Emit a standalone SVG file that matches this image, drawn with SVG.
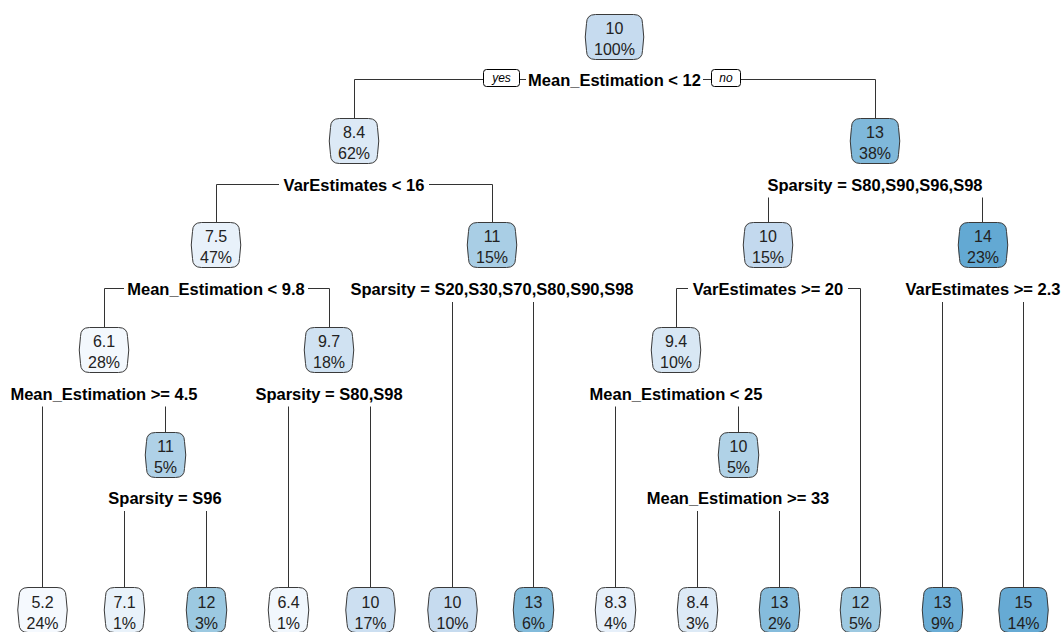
<svg xmlns="http://www.w3.org/2000/svg" xmlns:xlink="http://www.w3.org/1999/xlink" width="1063" height="632" viewBox="0 0 1063 632">
<style>
.box{stroke:#3a3a3a;stroke-width:1}
.nt{font-family:"Liberation Sans",Arial,sans-serif;font-size:16px;text-anchor:middle;fill:#222}
.sl{font-family:"Liberation Sans",Arial,sans-serif;font-size:16.5px;font-weight:bold;text-anchor:middle;fill:#000}
.yn{font-family:"Liberation Sans",Arial,sans-serif;font-size:12px;font-style:italic;text-anchor:middle;fill:#000}
.ynb{fill:#fff;stroke:#000;stroke-width:1}
.cn{fill:none;stroke:#333;stroke-width:1}
</style>
<defs>
<path id="s47" d="M9,0 H38 Q47,0 47,9 Q49.5,22.5 47,36 Q47,45 38,45 H9 Q0,45 0,36 Q-2.5,22.5 0,9 Q0,0 9,0 Z"/>
<path id="s38" d="M9,0 H29 Q38,0 38,9 Q40.5,22.5 38,36 Q38,45 29,45 H9 Q0,45 0,36 Q-2.5,22.5 0,9 Q0,0 9,0 Z"/>
<path id="s56" d="M9,0 H47 Q56,0 56,9 Q58.5,22.5 56,36 Q56,45 47,45 H9 Q0,45 0,36 Q-2.5,22.5 0,9 Q0,0 9,0 Z"/>
</defs>
<rect width="1063" height="632" fill="#fff"/>
<g id="connectors" class="cn">
<path d="M354.5,118 V79.5 H483 M520,79.5 H526 M703,79.5 H711 M741,79.5 H875.5 V118"/>
<path d="M216.5,222 V184.5 H279 M429,184.5 H492.5 V222"/>
<path d="M768.5,197.5 V222 M982.5,197.5 V222"/>
<path d="M104.5,327 V288.5 H124 M308,288.5 H329.5 V327"/>
<path d="M452.5,302 V587 M533.5,302 V587"/>
<path d="M676.5,327 V288.5 H688 M848,288.5 H860.5 V587"/>
<path d="M942.5,302 V587 M1023.5,302 V587"/>
<path d="M42.5,406.5 V587 M165.5,406.5 V432"/>
<path d="M288.5,406.5 V587 M370.5,406.5 V587"/>
<path d="M615.5,406.5 V587 M738.5,406.5 V432"/>
<path d="M124.5,511 V587 M206.5,511 V587"/>
<path d="M697.5,511 V587 M779.5,511 V587"/>
</g>
<g id="yesno">
<rect class="ynb" x="483.5" y="69.5" width="36" height="17" rx="3"/>
<text class="yn" x="501.5" y="82">yes</text>
<rect class="ynb" x="711.5" y="69.5" width="29" height="17" rx="3"/>
<text class="yn" x="726" y="82">no</text>
</g>
<g id="n1"><use xlink:href="#s56" href="#s56" class="box" x="586.5" y="14.5" fill="#C6DBEF"/><text class="nt" x="614.5" y="34">10</text><text class="nt" x="614.5" y="55">100%</text><text class="sl" x="614.5" y="86">Mean_Estimation &lt; 12</text></g>
<g id="n2"><use xlink:href="#s47" href="#s47" class="box" x="330.5" y="118.5" fill="#DCE9F6"/><text class="nt" x="354" y="138">8.4</text><text class="nt" x="354" y="159">62%</text><text class="sl" x="354" y="190.5">VarEstimates &lt; 16</text></g>
<g id="n3"><use xlink:href="#s47" href="#s47" class="box" x="851.5" y="118.5" fill="#7FB8DA"/><text class="nt" x="875" y="138">13</text><text class="nt" x="875" y="159">38%</text><text class="sl" x="875" y="190.5">Sparsity = S80,S90,S96,S98</text></g>
<g id="n4"><use xlink:href="#s47" href="#s47" class="box" x="192.5" y="222.5" fill="#E8F1FA"/><text class="nt" x="216" y="242">7.5</text><text class="nt" x="216" y="263">47%</text><text class="sl" x="216" y="295">Mean_Estimation &lt; 9.8</text></g>
<g id="n5"><use xlink:href="#s47" href="#s47" class="box" x="468.5" y="222.5" fill="#A9CEE5"/><text class="nt" x="492" y="242">11</text><text class="nt" x="492" y="263">15%</text><text class="sl" x="492" y="295">Sparsity = S20,S30,S70,S80,S90,S98</text></g>
<g id="n6"><use xlink:href="#s47" href="#s47" class="box" x="744.5" y="222.5" fill="#C3D9EE"/><text class="nt" x="768" y="242">10</text><text class="nt" x="768" y="263">15%</text><text class="sl" x="768" y="295">VarEstimates &gt;= 20</text></g>
<g id="n7"><use xlink:href="#s47" href="#s47" class="box" x="959.5" y="222.5" fill="#63A9D3"/><text class="nt" x="983" y="242">14</text><text class="nt" x="983" y="263">23%</text><text class="sl" x="983" y="295">VarEstimates &gt;= 2.3</text></g>
<g id="n8"><use xlink:href="#s47" href="#s47" class="box" x="80.5" y="327.5" fill="#F3F8FD"/><text class="nt" x="104" y="347">6.1</text><text class="nt" x="104" y="368">28%</text><text class="sl" x="104" y="399.5">Mean_Estimation &gt;= 4.5</text></g>
<g id="n9"><use xlink:href="#s47" href="#s47" class="box" x="305.5" y="327.5" fill="#D0E2F2"/><text class="nt" x="329" y="347">9.7</text><text class="nt" x="329" y="368">18%</text><text class="sl" x="329" y="399.5">Sparsity = S80,S98</text></g>
<g id="n10"><use xlink:href="#s47" href="#s47" class="box" x="652.5" y="327.5" fill="#D8E7F4"/><text class="nt" x="676" y="347">9.4</text><text class="nt" x="676" y="368">10%</text><text class="sl" x="676" y="399.5">Mean_Estimation &lt; 25</text></g>
<g id="n11"><use xlink:href="#s38" href="#s38" class="box" x="146.5" y="432.5" fill="#AFD1E7"/><text class="nt" x="165.5" y="452">11</text><text class="nt" x="165.5" y="473">5%</text><text class="sl" x="165" y="504">Sparsity = S96</text></g>
<g id="n12"><use xlink:href="#s38" href="#s38" class="box" x="719.5" y="432.5" fill="#B0D2E7"/><text class="nt" x="738.5" y="452">10</text><text class="nt" x="738.5" y="473">5%</text><text class="sl" x="738" y="504">Mean_Estimation &gt;= 33</text></g>
<g id="l1"><use xlink:href="#s47" href="#s47" class="box" x="19" y="587.5" fill="#F5F9FE"/><text class="nt" x="42.5" y="607.5">5.2</text><text class="nt" x="42.5" y="628.5">24%</text></g>
<g id="l2"><use xlink:href="#s38" href="#s38" class="box" x="105.5" y="587.5" fill="#E9F2FA"/><text class="nt" x="124.5" y="607.5">7.1</text><text class="nt" x="124.5" y="628.5">1%</text></g>
<g id="l3"><use xlink:href="#s38" href="#s38" class="box" x="187.5" y="587.5" fill="#9CC9E1"/><text class="nt" x="206.5" y="607.5">12</text><text class="nt" x="206.5" y="628.5">3%</text></g>
<g id="l4"><use xlink:href="#s38" href="#s38" class="box" x="269.5" y="587.5" fill="#F1F7FD"/><text class="nt" x="288.5" y="607.5">6.4</text><text class="nt" x="288.5" y="628.5">1%</text></g>
<g id="l5"><use xlink:href="#s47" href="#s47" class="box" x="347" y="587.5" fill="#CCDFF1"/><text class="nt" x="370.5" y="607.5">10</text><text class="nt" x="370.5" y="628.5">17%</text></g>
<g id="l6"><use xlink:href="#s47" href="#s47" class="box" x="429" y="587.5" fill="#C6DBEF"/><text class="nt" x="452.5" y="607.5">10</text><text class="nt" x="452.5" y="628.5">10%</text></g>
<g id="l7"><use xlink:href="#s38" href="#s38" class="box" x="514.5" y="587.5" fill="#82BBDB"/><text class="nt" x="533.5" y="607.5">13</text><text class="nt" x="533.5" y="628.5">6%</text></g>
<g id="l8"><use xlink:href="#s38" href="#s38" class="box" x="596.5" y="587.5" fill="#E7F0FA"/><text class="nt" x="615.5" y="607.5">8.3</text><text class="nt" x="615.5" y="628.5">4%</text></g>
<g id="l9"><use xlink:href="#s38" href="#s38" class="box" x="678.5" y="587.5" fill="#DDEAF6"/><text class="nt" x="697.5" y="607.5">8.4</text><text class="nt" x="697.5" y="628.5">3%</text></g>
<g id="l10"><use xlink:href="#s38" href="#s38" class="box" x="760.5" y="587.5" fill="#85BCDC"/><text class="nt" x="779.5" y="607.5">13</text><text class="nt" x="779.5" y="628.5">2%</text></g>
<g id="l11"><use xlink:href="#s38" href="#s38" class="box" x="841.5" y="587.5" fill="#9DC9E1"/><text class="nt" x="860.5" y="607.5">12</text><text class="nt" x="860.5" y="628.5">5%</text></g>
<g id="l12"><use xlink:href="#s38" href="#s38" class="box" x="923.5" y="587.5" fill="#6AADD6"/><text class="nt" x="942.5" y="607.5">13</text><text class="nt" x="942.5" y="628.5">9%</text></g>
<g id="l13"><use xlink:href="#s47" href="#s47" class="box" x="1000" y="587.5" fill="#66AAD4"/><text class="nt" x="1023.5" y="607.5">15</text><text class="nt" x="1023.5" y="628.5">14%</text></g>
</svg>
